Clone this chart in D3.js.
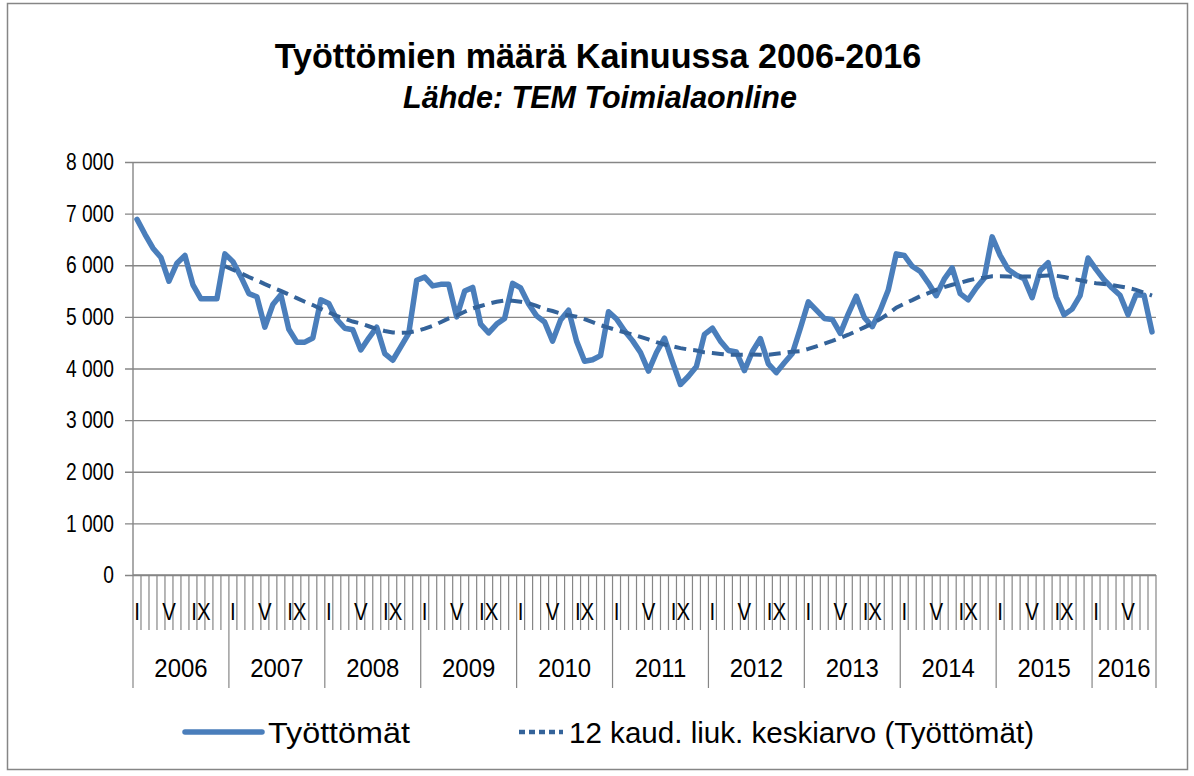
<!DOCTYPE html>
<html>
<head>
<meta charset="utf-8">
<script src="https://cdn.jsdelivr.net/npm/d3@7"></script>
<style>
  body { margin: 0; background: #fff; }
  svg text { font-family: "Liberation Sans", Arial, sans-serif; fill: #000; }
</style>
</head>
<body>
<svg id="chart" width="1194" height="776"></svg>
<script>
// chart data
const title = 'Työttömien määrä Kainuussa 2006-2016';
const subtitle = 'Lähde: TEM Toimialaonline';
const years = ['2006', '2007', '2008', '2009', '2010', '2011', '2012', '2013', '2014', '2015', '2016'];
const monthLabels = ['I', '', '', '', 'V', '', '', '', 'IX', '', '', ''];
const yTicks = [0, 1000, 2000, 3000, 4000, 5000, 6000, 7000, 8000];
const seriesName = 'Työttömät';
const trendName = '12 kaud. liuk. keskiarvo (Työttömät)';
const trendPeriod = 12;

// monthly values Jan 2006 - Aug 2016
const tyottomat = [
  6890, 6600, 6330, 6150, 5690, 6040, 6190, 5620, 5350, 5350, 5350, 6220,
  6070, 5780, 5450, 5390, 4800, 5240, 5430, 4760, 4510, 4510, 4590, 5330,
  5260, 4950, 4780, 4750, 4360, 4590, 4800, 4290, 4160, 4420, 4680, 5710,
  5770, 5600, 5630, 5630, 5000, 5500, 5570, 4860, 4690, 4860, 4970, 5650,
  5560, 5250, 5020, 4900, 4530, 4940, 5130, 4530, 4140, 4170, 4250, 5100,
  4960, 4730, 4540, 4310, 3950, 4310, 4590, 4130, 3690, 3850, 4040, 4660,
  4780, 4530, 4350, 4320, 3960, 4330, 4580, 4090, 3920, 4110, 4290, 4780,
  5290, 5130, 4970, 4950, 4680, 5060, 5400, 4990, 4810, 5130, 5520, 6220,
  6190, 5980, 5880, 5660, 5410, 5730, 5950, 5450, 5330, 5560, 5750, 6550,
  6190, 5920, 5810, 5740, 5370, 5900, 6050, 5390, 5040, 5150, 5410, 6140,
  5920, 5720, 5560, 5420, 5040, 5430, 5420, 4710
];

const periods = tyottomat.map((v, i) => ({
  key: years[Math.floor(i / 12)] + '-' + (i % 12),
  year: years[Math.floor(i / 12)],
  month: i % 12,
  value: v
}));

// Excel style moving average trendline
const trend = periods.slice(trendPeriod - 1).map((p, i) => ({
  key: p.key,
  value: d3.mean(tyottomat.slice(i, i + trendPeriod))
}));

const svg = d3.select('#chart');
const plot = { left: 133, right: 1156, top: 162, bottom: 575 };
const tickBottom = 630;
const yearBottom = 688;
const gridColor = '#868686';
const lineColor = '#4a7ebb';
const trendColor = '#34639a';

const x = d3.scaleBand().domain(periods.map(d => d.key)).range([plot.left, plot.right]);
const y = d3.scaleLinear().domain([0, 8000]).range([plot.bottom, plot.top]);
const fiFormat = d3.formatLocale({ decimal: ',', thousands: '\u00a0', grouping: [3], currency: ['', ' €'] }).format(',d');

// shrink/grow a text until it is as wide as in the picture
function fitWidth(sel, target) {
  sel.each(function () {
    const size = parseFloat(this.getAttribute('font-size'));
    const w = this.getComputedTextLength();
    this.setAttribute('font-size', (size * target / w).toFixed(2));
  });
}

// squeeze glyphs sideways (the original font is narrower than Arial)
function condense(sel, factor) {
  sel.each(function () {
    const w = this.getComputedTextLength();
    this.setAttribute('textLength', (w * factor).toFixed(1));
    this.setAttribute('lengthAdjust', 'spacingAndGlyphs');
  });
}

// chart border
svg.append('rect')
  .attr('x', 7.5).attr('y', 3.5)
  .attr('width', 1180).attr('height', 766)
  .attr('fill', 'none').attr('stroke', gridColor).attr('stroke-width', 1.5);

// titles
svg.append('text')
  .attr('x', 598).attr('y', 68)
  .attr('text-anchor', 'middle').attr('font-weight', 'bold').attr('font-size', 30)
  .text(title).call(fitWidth, 647);

svg.append('text')
  .attr('x', 600).attr('y', 108)
  .attr('text-anchor', 'middle').attr('font-weight', 'bold').attr('font-style', 'italic').attr('font-size', 26)
  .text(subtitle).call(fitWidth, 394);

// y gridlines + labels
const yAxis = svg.append('g')
  .attr('transform', `translate(${plot.left},0)`)
  .call(d3.axisLeft(y).tickValues(yTicks).tickFormat(fiFormat)
    .tickSizeInner(-(plot.right - plot.left)).tickSizeOuter(0).tickPadding(19));
yAxis.select('.domain').remove();
yAxis.selectAll('.tick line')
  .attr('x1', -8)
  .attr('stroke', gridColor).attr('stroke-width', 1.4);
yAxis.selectAll('.tick text')
  .attr('font-size', 24).attr('fill', '#000')
  .attr('font-family', '"Liberation Sans", Arial, sans-serif')
  .call(condense, 0.8);

// y axis line
svg.append('line')
  .attr('x1', plot.left).attr('x2', plot.left)
  .attr('y1', plot.top).attr('y2', plot.bottom)
  .attr('stroke', gridColor).attr('stroke-width', 1.4);

// x axis: month ticks between categories, longer at year starts
const xAxis = svg.append('g');
xAxis.append('line')
  .attr('x1', plot.left).attr('x2', plot.right)
  .attr('y1', plot.bottom).attr('y2', plot.bottom)
  .attr('stroke', gridColor).attr('stroke-width', 1.4);

xAxis.selectAll('line.month')
  .data(periods)
  .join('line')
  .attr('class', 'month')
  .attr('x1', d => x(d.key)).attr('x2', d => x(d.key))
  .attr('y1', plot.bottom)
  .attr('y2', d => d.month === 0 ? yearBottom : tickBottom)
  .attr('stroke', gridColor).attr('stroke-width', 1.2);

xAxis.append('line')
  .attr('x1', plot.right).attr('x2', plot.right)
  .attr('y1', plot.bottom).attr('y2', yearBottom)
  .attr('stroke', gridColor).attr('stroke-width', 1.2);

xAxis.selectAll('text.month')
  .data(periods.filter(d => monthLabels[d.month]))
  .join('text')
  .attr('class', 'month')
  .attr('x', d => x(d.key) + x.bandwidth() / 2)
  .attr('y', 620)
  .attr('text-anchor', 'middle').attr('font-size', 24)
  .text(d => monthLabels[d.month])
  .call(condense, 0.85);

const yearGroups = d3.groups(periods, d => d.year);
xAxis.selectAll('text.year')
  .data(yearGroups)
  .join('text')
  .attr('class', 'year')
  .attr('x', ([, ps]) => (x(ps[0].key) + x(ps[ps.length - 1].key) + x.bandwidth()) / 2)
  .attr('y', 677)
  .attr('text-anchor', 'middle').attr('font-size', 26)
  .text(([yr]) => yr)
  .call(condense, 0.92);

// series
const line = d3.line()
  .x(d => x(d.key) + x.bandwidth() / 2)
  .y(d => y(d.value));

svg.append('path')
  .datum(periods)
  .attr('d', line)
  .attr('fill', 'none').attr('stroke', lineColor).attr('stroke-width', 5.5)
  .attr('stroke-linejoin', 'round').attr('stroke-linecap', 'round');

svg.append('path')
  .datum(trend)
  .attr('d', line)
  .attr('fill', 'none').attr('stroke', trendColor).attr('stroke-width', 4)
  .attr('stroke-dasharray', '12,7');

// legend
const legend = svg.append('g');
legend.append('line')
  .attr('x1', 185).attr('x2', 262).attr('y1', 732).attr('y2', 732)
  .attr('stroke', lineColor).attr('stroke-width', 5.5).attr('stroke-linecap', 'round');
legend.append('line')
  .attr('x1', 519).attr('x2', 563).attr('y1', 732).attr('y2', 732)
  .attr('stroke', trendColor).attr('stroke-width', 4.5).attr('stroke-dasharray', '6,4');
legend.append('text')
  .attr('x', 268).attr('y', 743).attr('font-size', 29)
  .attr('textLength', 142).attr('lengthAdjust', 'spacingAndGlyphs')
  .text(seriesName);
legend.append('text')
  .attr('x', 569).attr('y', 743).attr('font-size', 29)
  .attr('textLength', 465).attr('lengthAdjust', 'spacingAndGlyphs')
  .text(trendName);
</script>
</body>
</html>
